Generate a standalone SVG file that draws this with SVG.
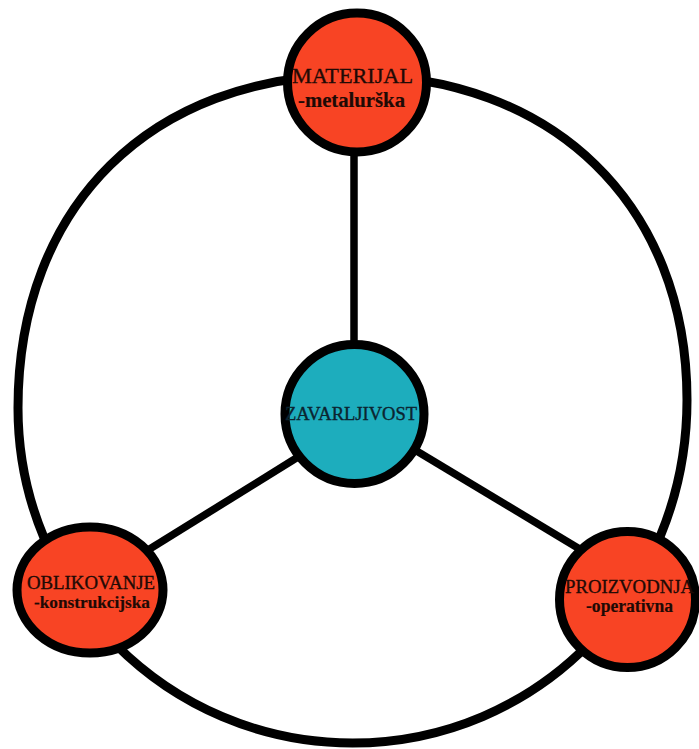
<svg xmlns="http://www.w3.org/2000/svg" width="699" height="749" viewBox="0 0 699 749">
<style>
.ring{fill:none;stroke:#000;stroke-width:9}
.conn{stroke:#000;stroke-width:7.5;stroke-linecap:butt}
.node{stroke:#000;stroke-width:9}
.red{fill:#F84424}
.teal{fill:#1DADBD}
.t{font-family:"Liberation Serif","Times New Roman",serif;text-anchor:middle;fill:#1f0a05;stroke:#1f0a05;stroke-width:0.35}
.b{font-weight:bold;stroke-width:0.2}
</style>
<rect width="699" height="749" fill="#fff"/>
<g id="connectors">
<path class="ring" d="M18,408 C18,205 151.8,75 352.5,75 C553.2,75 687,205 687,400 C687,593 537.2,743 352.5,743 C167.8,743 18,593 18,408 Z"/>
<line class="conn" x1="354" y1="150" x2="354" y2="345"/>
<line class="conn" x1="300" y1="455.8" x2="140" y2="555"/>
<line class="conn" x1="410" y1="447" x2="580" y2="549.2"/>
</g>
<g id="material">
<circle class="node red" cx="357" cy="82.5" r="69.5"/>
<text class="t" x="352.5" y="83" font-size="22" textLength="121" lengthAdjust="spacingAndGlyphs">MATERIJAL</text>
<text class="t b" x="351.5" y="107" font-size="21" textLength="107" lengthAdjust="spacingAndGlyphs">-metalurška</text>
</g>
<g id="zavarljivost">
<circle class="node teal" cx="354.5" cy="414" r="69.5"/>
<text class="t" x="351" y="420" font-size="18" textLength="132" lengthAdjust="spacingAndGlyphs" style="fill:#0b2430;stroke:#0b2430">ZAVARLJIVOST</text>
</g>
<g id="oblikovanje">
<ellipse class="node red" cx="90" cy="590" rx="73" ry="63"/>
<text class="t" x="91" y="589" font-size="18.5" textLength="128" lengthAdjust="spacingAndGlyphs">OBLIKOVANJE</text>
<text class="t b" x="92" y="608" font-size="17.5" textLength="116" lengthAdjust="spacingAndGlyphs">-konstrukcijska</text>
</g>
<g id="proizvodnja">
<circle class="node red" cx="627.5" cy="599.5" r="68"/>
<text class="t" x="629.5" y="592.5" font-size="19" textLength="129" lengthAdjust="spacingAndGlyphs">PROIZVODNJA</text>
<text class="t b" x="629.5" y="611.5" font-size="18" textLength="87" lengthAdjust="spacingAndGlyphs">-operativna</text>
</g>
</svg>
